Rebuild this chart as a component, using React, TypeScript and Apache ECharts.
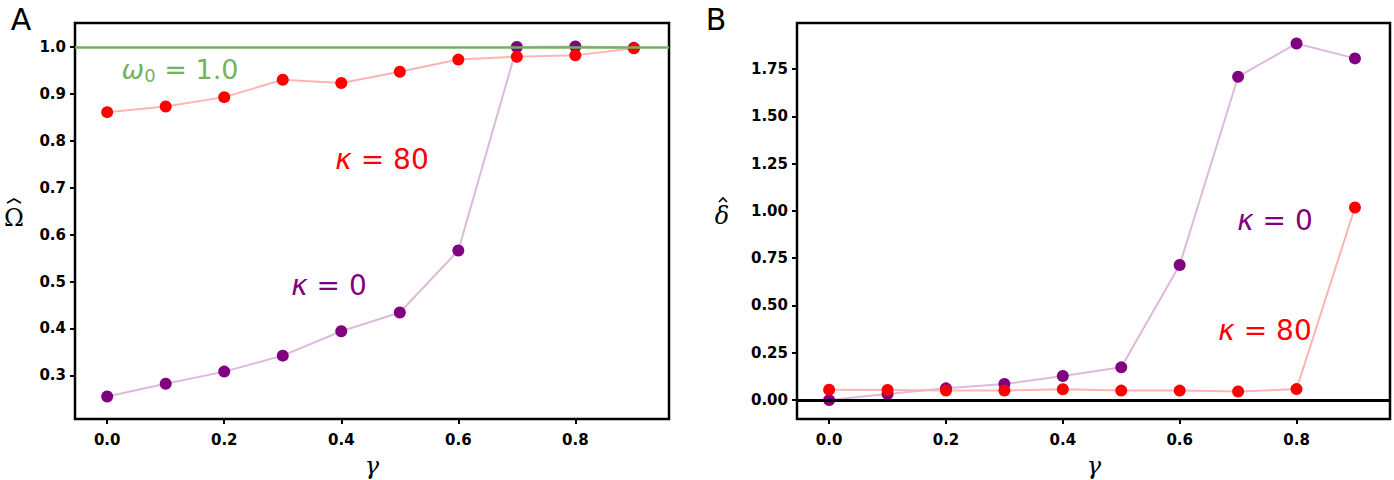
import React, { useEffect, useRef } from "react";
import * as echarts from "echarts";

const gammas = [0.0, 0.1, 0.2, 0.3, 0.4, 0.5, 0.6, 0.7, 0.8, 0.9];
const omegaK0 = [0.255, 0.282, 0.308, 0.342, 0.394, 0.434, 0.566, 1.0, 1.001, 0.998];
const omegaK80 = [0.861, 0.873, 0.893, 0.93, 0.923, 0.947, 0.973, 0.979, 0.982, 0.997];
const deltaK0 = [0.0, 0.032, 0.062, 0.085, 0.127, 0.173, 0.714, 1.709, 1.885, 1.806];
const deltaK80 = [0.055, 0.053, 0.05, 0.05, 0.057, 0.05, 0.05, 0.045, 0.058, 1.018];
const xTicks = [0.0, 0.2, 0.4, 0.6, 0.8];
const omegaTicks = [0.3, 0.4, 0.5, 0.6, 0.7, 0.8, 0.9, 1.0];
const deltaTicks = [0.0, 0.25, 0.5, 0.75, 1.0, 1.25, 1.5, 1.75];
const omega0 = 1.0;

const RED = "#ff0000";
const RED_LINE = "#ffb3b3";
const PURPLE = "#800080";
const PURPLE_LINE = "#dcbadc";
const GREEN = "#74b25e";
const TICK_FONT = "'DejaVu Sans', sans-serif";
const TEXT_FONT = "'DejaVu Sans', sans-serif";
const SERIF = "'DejaVu Serif', serif";

export default function App() {
  const ref = useRef<HTMLDivElement>(null);
  useEffect(() => {
    document.body.style.margin = "0";
    const chart = echarts.init(ref.current!, null, { renderer: "svg" });
    const pairs = (ys: number[]) => gammas.map((g, i) => [g, ys[i]]);
    const tickStyle = (ticks: number[]) => ({
      show: true,
      inside: false,
      length: 5,
      lineStyle: { color: "#000", width: 2 },
      customValues: ticks,
    });
    const labelStyle = (ticks: number[], dec: number, margin: number) => ({
      customValues: ticks,
      formatter: (v: number) => v.toFixed(dec),
      color: "#000",
      fontWeight: "bold",
      fontFamily: TICK_FONT,
      fontSize: 15,
      margin,
    });
    const xAxisBase = (gridIndex: number) => ({
      type: "value" as const,
      gridIndex,
      min: -0.055,
      max: 0.96,
      splitLine: { show: false },
      axisLine: { show: false, onZero: false },
      axisTick: tickStyle(xTicks),
      axisLabel: labelStyle(xTicks, 1, 13),
    });
    const yAxisBase = (gridIndex: number, min: number, max: number, ticks: number[], dec: number) => ({
      type: "value" as const,
      gridIndex,
      min,
      max,
      splitLine: { show: false },
      axisLine: { show: false, onZero: false },
      axisTick: tickStyle(ticks),
      axisLabel: labelStyle(ticks, dec, 9),
    });
    const lineSeries = (name: string, xi: number, ys: number[], color: string, lineColor: string, extra: any = {}) => ({
      type: "line" as const,
      name,
      xAxisIndex: xi,
      yAxisIndex: xi,
      data: pairs(ys),
      symbol: "circle",
      symbolSize: 12,
      itemStyle: { color },
      lineStyle: { color: lineColor, width: 2 },
      silent: true,
      ...extra,
    });
    const kappaText = (x: number, y: number, num: string, color: string) => ({
      type: "text" as const,
      x,
      y,
      style: {
        text: `{k|κ}{t| = ${num}}`,
        textAlign: "center" as const,
        textVerticalAlign: "middle" as const,
        rich: {
          k: { fill: color, font: `italic 28px ${TEXT_FONT}` },
          t: { fill: color, font: `28px ${TEXT_FONT}` },
        },
      },
    });
    const hat = (cx: number, y: number, w: number) => ({
      type: "polyline" as const,
      shape: { points: [[cx - w / 2, y + 4], [cx, y], [cx + w / 2, y + 4]] },
      style: { stroke: "#000", lineWidth: 1.6, fill: "none" },
    });
    chart.setOption({
      animation: false,
      grid: [
        { left: 75, top: 23, width: 594, height: 396, show: true, borderColor: "#000", borderWidth: 2.5, backgroundColor: "transparent" },
        { left: 797, top: 23, width: 593, height: 396, show: true, borderColor: "#000", borderWidth: 2.5, backgroundColor: "transparent" },
      ],
      xAxis: [xAxisBase(0), xAxisBase(1)],
      yAxis: [
        yAxisBase(0, 0.207, 1.051, omegaTicks, 1),
        yAxisBase(1, -0.1, 1.993, deltaTicks, 2),
      ],
      series: [
        lineSeries("κ = 0", 0, omegaK0, PURPLE, PURPLE_LINE, {
          markLine: {
            silent: true,
            symbol: "none",
            label: { show: false },
            lineStyle: { color: GREEN, width: 2.5, type: "solid" },
            data: [{ yAxis: omega0 }],
          },
        }),
        lineSeries("κ = 80", 0, omegaK80, RED, RED_LINE),
        lineSeries("κ = 0", 1, deltaK0, PURPLE, PURPLE_LINE, {
          markLine: {
            silent: true,
            symbol: "none",
            label: { show: false },
            lineStyle: { color: "#000", width: 3, type: "solid" },
            data: [{ yAxis: 0 }],
          },
        }),
        lineSeries("κ = 80", 1, deltaK80, RED, RED_LINE),
      ],
      graphic: [
        { type: "text", x: 21, y: 19, style: { text: "A", fill: "#000", font: `30px ${TEXT_FONT}`, textAlign: "center", textVerticalAlign: "middle" } },
        { type: "text", x: 716, y: 19, style: { text: "B", fill: "#000", font: `30px ${TEXT_FONT}`, textAlign: "center", textVerticalAlign: "middle" } },
        { type: "text", x: 14, y: 218, style: { text: "Ω", fill: "#000", font: `24px ${SERIF}`, textAlign: "center", textVerticalAlign: "middle" } },
        hat(14, 199, 14),
        { type: "text", x: 722, y: 216, style: { text: "δ", fill: "#000", font: `italic 24px ${SERIF}`, textAlign: "center", textVerticalAlign: "middle" } },
        hat(723, 198, 8),
        { type: "text", x: 372, y: 466, style: { text: "γ", fill: "#000", font: `italic 24px ${SERIF}`, textAlign: "center", textVerticalAlign: "middle" } },
        { type: "text", x: 1094, y: 466, style: { text: "γ", fill: "#000", font: `italic 24px ${SERIF}`, textAlign: "center", textVerticalAlign: "middle" } },
        {
          type: "text",
          x: 180,
          y: 69,
          style: {
            text: "{w|ω}{s|0}{t| = 1.0}",
            textAlign: "center",
            textVerticalAlign: "middle",
            rich: {
              w: { fill: GREEN, font: `italic 27px ${TEXT_FONT}` },
              s: { fill: GREEN, font: `18px ${TEXT_FONT}`, verticalAlign: "bottom", padding: [12, 0, 0, 0] },
              t: { fill: GREEN, font: `27px ${TEXT_FONT}` },
            },
          },
        },
        kappaText(382, 159, "80", RED),
        kappaText(329, 285, "0", PURPLE),
        kappaText(1275, 220, "0", PURPLE),
        kappaText(1265, 330, "80", RED),
      ],
    });
    return () => chart.dispose();
  }, []);
  return <div ref={ref} style={{ width: 1394, height: 480 }} />;
}
